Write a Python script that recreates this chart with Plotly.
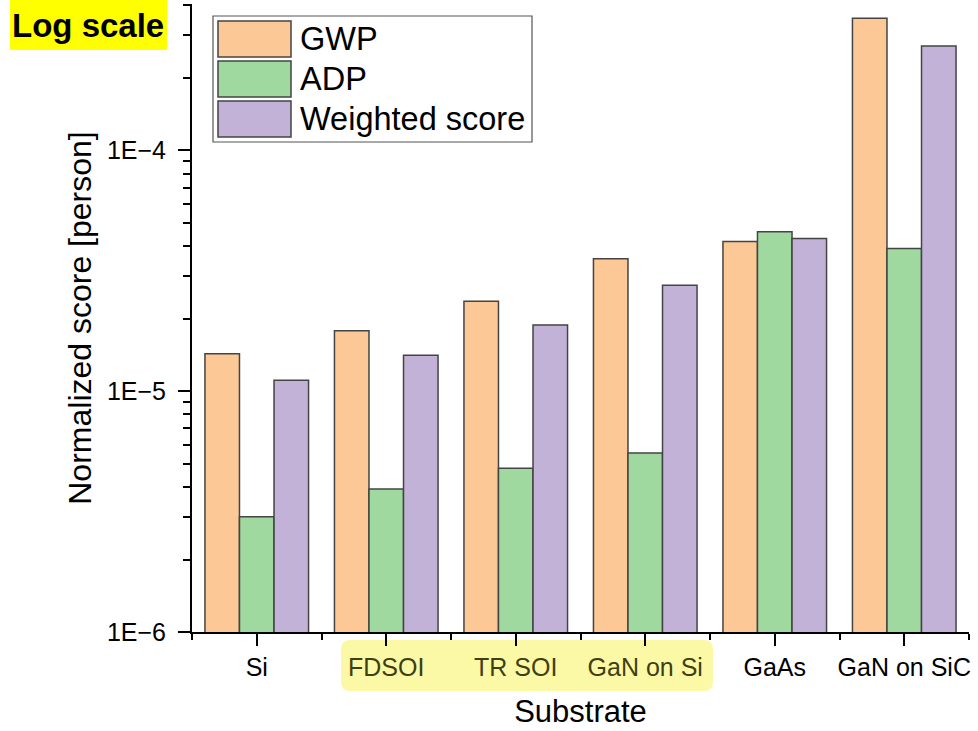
import math
import plotly.graph_objects as go

# ---- data ----
categories = ["Si", "FDSOI", "TR SOI", "GaN on Si", "GaAs", "GaN on SiC"]
gwp = [1.43e-5, 1.78e-5, 2.36e-5, 3.55e-5, 4.18e-5, 3.53e-4]
adp = [3.01e-6, 3.92e-6, 4.79e-6, 5.53e-6, 4.59e-5, 3.91e-5]
weighted = [1.11e-5, 1.41e-5, 1.88e-5, 2.75e-5, 4.30e-5, 2.71e-4]
series_names = ["GWP", "ADP", "Weighted score"]
y_tick_vals = [1e-6, 1e-5, 1e-4]
y_tick_text = ["1E\u22126", "1E\u22125", "1E\u22124"]
highlighted = ["FDSOI", "TR SOI", "GaN on Si"]

colors = ["#FCC896", "#A0D99F", "#C3B2D8"]
edge = "#444444"
FONT = "Liberation Sans, Arial, sans-serif"

W, H = 978, 731
PX0, PX1, PY0, PY1 = 192, 969, 4, 632  # plot area in pixels


def px(x):
    return (x - PX0) / (PX1 - PX0)


def py(y):
    return (PY1 - y) / (PY1 - PY0)


xpos = list(range(len(categories)))
x_ticktext = [f"<span style='color:#3f3f12'>{c}</span>" if c in highlighted else c
              for c in categories]

fig = go.Figure()
for name, vals, col in zip(series_names, [gwp, adp, weighted], colors):
    fig.add_trace(go.Bar(
        x=xpos, y=vals, name=name,
        marker=dict(color=col, line=dict(color=edge, width=1.5)),
        showlegend=False,
    ))

ytop = 4.05e-4
minor_y = [k * 10 ** e for e in (-6, -5, -4) for k in range(2, 10) if k * 10 ** e <= ytop]

fig.update_layout(
    width=W, height=H,
    margin=dict(l=PX0, r=W - PX1, t=PY0, b=H - PY1),
    paper_bgcolor="white", plot_bgcolor="white",
    barmode="group", bargap=0.2, bargroupgap=0,
    font=dict(family=FONT, color="black"),
    xaxis=dict(
        type="linear", range=[-0.5, len(categories) - 0.5],
        tickmode="array", tickvals=xpos, ticktext=x_ticktext,
        ticks="outside", ticklen=12, tickwidth=2, tickcolor="black",
        tickfont=dict(size=25, family=FONT, color="black"),
        showline=True, linewidth=2, linecolor="black",
        showgrid=False, zeroline=False,
        minor=dict(tickmode="array", tickvals=[i - 0.5 for i in range(len(categories) + 1)],
                   ticks="outside", ticklen=6, tickwidth=2, tickcolor="black", showgrid=False),
        title=dict(text="Substrate", font=dict(size=31, family=FONT, color="black"), standoff=20),
    ),
    yaxis=dict(
        type="log", range=[-6, math.log10(ytop)],
        tickmode="array", tickvals=y_tick_vals, ticktext=y_tick_text,
        ticks="outside", ticklen=12, tickwidth=2, tickcolor="black",
        tickfont=dict(size=25, family=FONT, color="black"),
        ticklabelstandoff=7,
        showline=True, linewidth=2, linecolor="black",
        showgrid=False, zeroline=False,
        minor=dict(tickmode="array", tickvals=minor_y,
                   ticks="outside", ticklen=7, tickwidth=2, tickcolor="black", showgrid=False),
        title=dict(text="Normalized score [person]", font=dict(size=32, family=FONT, color="black"), standoff=6),
    ),
)

shapes = []
annotations = []

# manual legend
shapes.append(dict(type="rect", xref="paper", yref="paper",
                   x0=px(213), x1=px(532), y0=py(142), y1=py(16),
                   line=dict(color="#555555", width=1.2), fillcolor="white", layer="above"))
sw_tops = [21, 61, 101]
for name, col, top in zip(series_names, colors, sw_tops):
    shapes.append(dict(type="rect", xref="paper", yref="paper",
                       x0=px(218), x1=px(291), y0=py(top + 36), y1=py(top),
                       line=dict(color=edge, width=1.5), fillcolor=col, layer="above"))
    annotations.append(dict(xref="paper", yref="paper", x=px(298), y=py(top + 18),
                            text=name, showarrow=False, xanchor="left", yanchor="middle",
                            font=dict(size=32.5, family=FONT, color="black")))

# "Log scale" label
shapes.append(dict(type="rect", xref="paper", yref="paper",
                   x0=px(10), x1=px(167), y0=py(50), y1=py(0),
                   fillcolor="#FFFF00", line=dict(width=0), layer="above"))
annotations.append(dict(xref="paper", yref="paper", x=px(88.5), y=py(25),
                        text="<b>Log scale</b>", showarrow=False, xanchor="center", yanchor="middle",
                        font=dict(size=33, family=FONT, color="black")))

# pale yellow highlight behind FDSOI .. GaN on Si tick labels (rounded rect)
x0, x1, y0, y1, r = 341, 713, 640, 691, 9
path = (f"M {px(x0 + r)} {py(y0)} L {px(x1 - r)} {py(y0)} "
        f"Q {px(x1)} {py(y0)} {px(x1)} {py(y0 + r)} L {px(x1)} {py(y1 - r)} "
        f"Q {px(x1)} {py(y1)} {px(x1 - r)} {py(y1)} L {px(x0 + r)} {py(y1)} "
        f"Q {px(x0)} {py(y1)} {px(x0)} {py(y1 - r)} L {px(x0)} {py(y0 + r)} "
        f"Q {px(x0)} {py(y0)} {px(x0 + r)} {py(y0)} Z")
shapes.append(dict(type="path", xref="paper", yref="paper", path=path,
                   fillcolor="#FCF9A6", line=dict(width=0), layer="below"))

fig.update_layout(shapes=shapes, annotations=annotations)
fig.write_html("out.html")
